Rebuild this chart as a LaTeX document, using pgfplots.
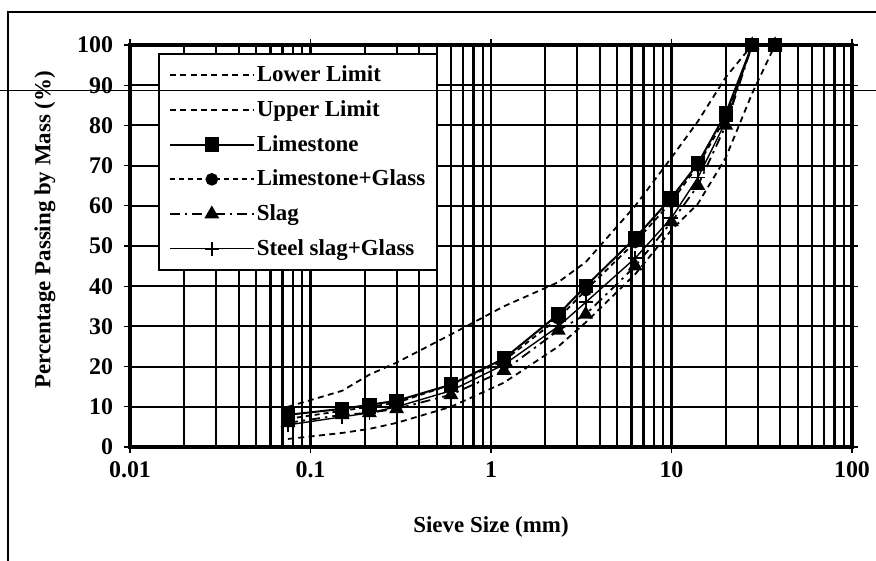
\documentclass[border=0pt]{standalone}
\usepackage{fontspec}
\setmainfont{Liberation Serif}
\usepackage{pgfplots}
\pgfplotsset{compat=1.18}
\begin{document}
\begin{tikzpicture}
\path[use as bounding box] (-65bp,-57bp) rectangle (373bp,223.5bp);
\begin{axis}[
  at={(0,0)}, anchor=south west,
  scale only axis, width=361bp, height=201bp,
  xmode=log, log basis x=10,
  xmin=0.01, xmax=100, ymin=0, ymax=100,
  xtick={0.01,0.1,1,10,100},
  xticklabels={0.01,0.1,1,10,100},
  minor xtick={0.02,0.03,0.04,0.05,0.06,0.07,0.08,0.09,
               0.2,0.3,0.4,0.5,0.6,0.7,0.8,0.9,
               2,3,4,5,6,7,8,9,
               20,30,40,50,60,70,80,90},
  ytick={0,10,...,100},
  xmajorgrids=true, xminorgrids=true, ymajorgrids=true,
  major grid style={black, line width=1.05bp},
  minor grid style={black, line width=1.05bp},
  axis line style={black, line width=1.6bp},
  tick style={black, line width=0.6bp},
  tick align=outside,
  major tick length=3bp, minor tick length=0bp,
  /pgf/number format/assume math mode=true,
  tick label style={font=\fontsize{12}{12}\selectfont\bfseries},
  yticklabel style={xshift=-2bp},
  xticklabel style={yshift=-1bp},
  xlabel={Sieve Size (mm)},
  ylabel={Percentage Passing by Mass (\%)},
  every axis x label/.style={at={(axis description cs:0.5,-0.199)}, anchor=center,
    font=\fontsize{11.5}{12}\selectfont\bfseries},
  every axis y label/.style={at={(axis description cs:-0.1177,0.54)}, rotate=90, anchor=center,
    font=\fontsize{11.5}{12}\selectfont\bfseries},
  legend cell align=left,
  legend image code/.code={\draw[mark repeat=2,mark phase=2] plot coordinates {(0bp,0bp) (21bp,0bp) (42bp,0bp)};},
  legend style={at={(axis description cs:0.0388,0.980)}, anchor=north west,
    draw=black, line width=0.8bp, fill=white,
    font=\fontsize{11.5}{12}\selectfont\bfseries,
    row sep=5.9bp, inner xsep=5bp, inner ysep=5bp,
    nodes={inner xsep=1bp, inner ysep=1bp}},
]
\addplot[black, line width=0.9bp, dash pattern=on 3bp off 2.2bp] coordinates {
 (0.075,2) (0.15,3.5) (0.212,4.5) (0.3,6) (0.6,10) (1.18,16) (2.36,25) (3.35,31)
 (6.3,43) (10,54) (14,60.5) (20,72) (28,88) (37.5,100)};
\addlegendentry{Lower Limit}
\addplot[black, line width=0.9bp, dash pattern=on 3bp off 2.2bp] coordinates {
 (0.075,10) (0.15,14) (0.212,18) (0.3,21) (0.6,28) (1.18,35) (2.36,41) (3.35,46)
 (6.3,60) (10,72) (14,81) (20,92) (28,100) (37.5,100)};
\addlegendentry{Upper Limit}
\addplot[black, line width=1bp, mark=square*, mark size=3.1bp, mark options={solid}] coordinates {
 (0.075,8) (0.15,9.5) (0.212,10.5) (0.3,11.5) (0.6,15.5) (1.18,22) (2.36,33) (3.35,40)
 (6.3,52) (10,62) (14,70.5) (20,83) (28,100) (37.5,100)};
\addlegendentry{Limestone}
\addplot[black, line width=0.9bp, dash pattern=on 2.5bp off 2bp, mark=*, mark size=2.7bp, mark options={solid}] coordinates {
 (0.075,7) (0.15,9) (0.212,10) (0.3,11) (0.6,15.5) (1.18,21.5) (2.36,32) (3.35,39)
 (6.3,51) (10,61) (14,70) (20,82) (28,100) (37.5,100)};
\addlegendentry{Limestone+Glass}
\addplot[black, line width=0.9bp, dash pattern=on 5bp off 2.5bp on 1.2bp off 2.5bp, mark=triangle*, mark size=3.4bp, mark options={solid}] coordinates {
 (0.075,6) (0.15,8) (0.212,8.5) (0.3,9.5) (0.6,13) (1.18,19) (2.36,29) (3.35,33)
 (6.3,45) (10,56) (14,65) (20,80) (28,100) (37.5,100)};
\addlegendentry{Slag}
\addplot[black, line width=0.7bp, mark=+, mark size=3.5bp, mark options={solid, line width=0.8bp}] coordinates {
 (0.075,5.5) (0.15,7.5) (0.212,8.5) (0.3,10) (0.6,14) (1.18,20.5) (2.36,30) (3.35,36)
 (6.3,47) (10,57) (14,67) (20,81) (28,100) (37.5,100)};
\addlegendentry{Steel slag+Glass}
\end{axis}
% scanned page frame and stray line
\draw[black, line width=0.6bp] (-61bp,-57bp) -- (-61bp,217.5bp) -- (373bp,217.5bp);
\draw[black, line width=0.5bp] (-65bp,178bp) -- (373bp,178bp);
\end{tikzpicture}
\end{document}
